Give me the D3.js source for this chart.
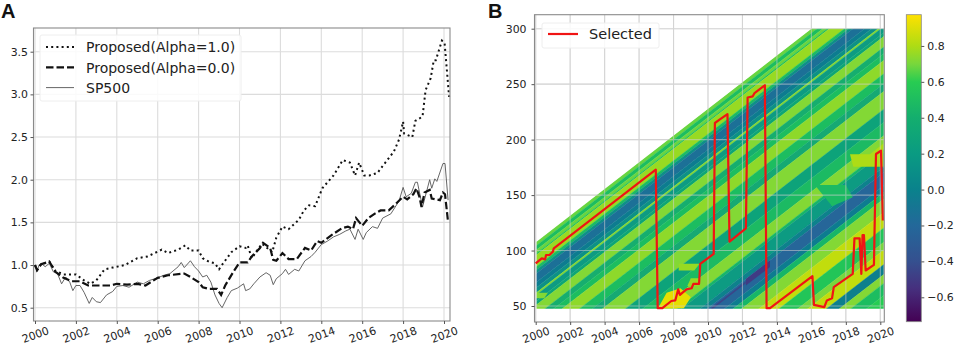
<!DOCTYPE html>
<html><head><meta charset="utf-8">
<script src="https://cdn.jsdelivr.net/npm/d3@7"></script>
<style>html,body{margin:0;padding:0;background:#fff}svg{display:block}text{font-family:"DejaVu Sans",sans-serif}</style>
</head><body><svg id="c" width="955" height="346"></svg>
<script>
const xTicks=[2000,2002,2004,2006,2008,2010,2012,2014,2016,2018,2020];
const yTicksA=[0.5,1,1.5,2,2.5,3,3.5];
const yTicksB=[50,100,150,200,250,300];
const cbTicks=[-0.6,-0.4,-0.2,0,0.2,0.4,0.6,0.8];
const legendA=["Proposed(Alpha=1.0)","Proposed(Alpha=0.0)","SP500"];
const legendB=["Selected"];

const spT=[2000,2000.1,2000.2,2000.3,2000.5,2000.7,2000.9,2001.1,2001.3,2001.5,2001.7,2001.85,2002,2002.2,2002.4,2002.65,2002.8,2003,2003.2,2003.5,2003.8,2004,2004.3,2004.6,2005,2005.3,2005.6,2006,2006.3,2006.6,2007,2007.15,2007.3,2007.6,2007.8,2008,2008.2,2008.4,2008.6,2008.8,2009,2009.15,2009.4,2009.6,2009.9,2010.2,2010.3,2010.5,2010.7,2011,2011.3,2011.5,2011.65,2011.8,2012.1,2012.25,2012.4,2012.7,2012.9,2013.2,2013.5,2013.7,2014,2014.3,2014.6,2014.9,2015.2,2015.4,2015.65,2015.8,2016.05,2016.2,2016.5,2016.75,2017,2017.4,2017.8,2018,2018.15,2018.4,2018.6,2018.7,2018.95,2019.3,2019.4,2019.55,2019.65,2019.95,2020.05,2020.2];
const spV=[1,.93,1,1.02,.98,1.02,.92,.9,.78,.86,.8,.7,.76,.76,.68,.55,.62,.57,.56,.65,.69,.75,.76,.74,.8,.78,.82,.85,.88,.9,.98,1.03,.97,1.05,.98,.93,.86,.88,.8,.65,.55,.5,.62,.7,.73,.78,.7,.72,.78,.86,.91,.88,.77,.84,.9,.95,.89,.95,.93,1.05,1.1,1.15,1.24,1.28,1.33,1.36,1.4,1.42,1.3,1.42,1.3,1.38,1.45,1.43,1.55,1.6,1.75,1.91,1.8,1.84,1.97,1.97,1.68,2,1.9,2.01,1.98,2.19,2.19,1.76];

const a1T=[2000,2000.1,2000.3,2000.7,2001,2001.4,2002,2002.4,2002.7,2003,2003.4,2003.8,2004.4,2005,2005.5,2006.2,2006.5,2007,2007.35,2007.6,2008,2008.2,2008.5,2008.8,2009,2009.2,2009.6,2010,2010.3,2010.4,2010.6,2011.1,2011.6,2011.8,2012.1,2012.4,2012.9,2013.15,2013.4,2013.7,2014.05,2014.6,2015.05,2015.4,2015.65,2015.85,2016.1,2016.35,2016.75,2017,2017.55,2017.8,2018,2018.05,2018.45,2018.6,2018.95,2019.1,2019.35,2019.5,2019.6,2019.9,2020.03,2020.25];
const a1V=[1,.94,1.01,1.04,.93,.89,.89,.82,.78,.82,.95,.97,1,1.08,1.1,1.18,1.14,1.18,1.23,1.17,1.17,1.08,1.04,1.02,.95,1.02,1.15,1.22,1.2,1.23,1.08,1.25,1.15,1.32,1.45,1.42,1.53,1.64,1.7,1.69,1.9,2.05,2.23,2.2,2.05,2.2,2.05,2.05,2.08,2.16,2.33,2.47,2.68,2.54,2.5,2.69,2.74,3.05,3.19,3.4,3.4,3.63,3.6,2.97];

const a0T=[2000,2000.1,2000.3,2000.7,2001,2001.4,2001.8,2002.2,2002.6,2003,2003.7,2004,2004.5,2005,2005.4,2005.8,2006,2006.5,2007.3,2007.6,2008,2008.2,2008.5,2008.9,2009.1,2009.3,2009.7,2010,2010.4,2010.6,2011,2011.15,2011.5,2011.65,2011.8,2012.1,2012.4,2012.8,2013.2,2013.5,2013.8,2014,2014.5,2015,2015.3,2015.55,2015.7,2016,2016.3,2016.6,2016.9,2017.3,2017.7,2018,2018.2,2018.5,2018.65,2018.8,2018.9,2019.05,2019.3,2019.4,2019.8,2019.95,2020.05,2020.2];
const a0V=[1,.94,1.01,1.04,.92,.85,.81,.81,.76,.76,.76,.78,.77,.78,.76,.82,.85,.88,.9,.86,.8,.74,.72,.72,.65,.76,.92,1.03,1.03,1.1,1.2,1.26,1.2,1.06,1.05,1.14,1.07,1.07,1.2,1.17,1.28,1.26,1.35,1.43,1.45,1.42,1.55,1.46,1.55,1.6,1.64,1.64,1.73,1.8,1.77,1.83,1.9,1.8,1.68,1.85,1.88,1.78,1.76,1.85,1.83,1.5];

const selT=[2000,2000.35,2000.55,2000.6,2000.8,2001,2001.05,2006.97,2007.08,2007.35,2007.87,2008.1,2008.27,2008.37,2008.75,2009.05,2009.15,2009.48,2009.55,2010.33,2010.4,2010.67,2011.13,2011.25,2012.2,2012.3,2012.6,2012.7,2013.3,2013.4,2013.6,2016.06,2016.15,2016.75,2016.9,2017.2,2017.3,2018.4,2018.5,2018.8,2018.9,2018.97,2019.05,2019.15,2019.63,2019.75,2020.04,2020.15];
const selV=[88.5,93,92,96,96,99,102,173,48,48,54.5,55,65,60,65,66,70,70,88,97,215,218,223,108,120,238,239,242,249,48,48,77,51,49,55,57,67,79,111,111,79,114,114,82,87,187,190,127];

// diagonal bands of the correlation surface: upper edge (window minus months since 2000) and value
const bandEdge=[108,104,100,97,95.5,85,82,79,71,66,61.5,59.5,54,50.5,41,35,29,17,8,1,-15,-27,-39,-51,-54,-67,-72,-84,-90,-96,-108,-122,-135,-142,-155,-164,-172,-183];
const bandValue=[.68,.5,.68,.52,.76,.5,.12,-.15,-.05,.12,.72,.2,.32,.72,.4,.5,.74,.5,.35,.72,.28,.48,.72,.45,.2,0,-.22,-.05,.45,.72,.84,.55,.7,.84,-.02,.72,.5,.6];
const bandFloor=-196;

// flat-edged patches on the surface
const patchT=[[2018.24,2019.4,2020.18,2020.18,2018.43],[2007.1,2008.6,2009,2008.4,2007.6],[2016.2,2018,2018.4,2017.2],[2000,2000.7,2000.5,2000],[2008.3,2009.5,2009.2,2008.3],[2009,2009.5,2009.5,2008.8],[2012.2,2013.6,2013.6,2012.2],[2010.2,2012.2,2012.2,2010.2]];
const patchL=[[186.7,186.7,196.6,175.6,175.6],[48,48,58,66,62],[159,159,148,140],[62,62,57,57],[88,88,82,82],[75,75,68,68],[74.4,91.2,85.2,68.4],[48.5,72.4,70.4,46.5]];
const patchV=[.8,.92,.48,.72,.76,.76,-.5,-.45];
const cbMin=-.736,cbMax=.974;
const cbStops=[-.736,-.55,-.4,-.2,0,.2,.4,.6,.7,.8,.974];
const cbColors=["#440154","#46307e","#35508f","#23689a","#0a828c","#0a9b82","#14ae6e","#28cc52","#78d73c","#aedc14","#ffe100"];

const svg=d3.select("#c");
const ink="#222", frame="#8a8a8a", grid="#dcdcdc";
const tickFont=10.9;
const color=d3.scaleLinear().domain(cbStops).range(cbColors);
const defs=svg.append("defs");
defs.append("filter").attr("id","soft").append("feGaussianBlur").attr("stdDeviation",0.6);

function panel(x,y,yTicks,box){
  const g=svg.append("g");
  xTicks.forEach(t=>g.append("line").attr("x1",x(t)).attr("x2",x(t)).attr("y1",box.t).attr("y2",box.b));
  yTicks.forEach(t=>g.append("line").attr("y1",y(t)).attr("y2",y(t)).attr("x1",box.l).attr("x2",box.r));
  g.selectAll("line").attr("stroke",grid).attr("stroke-width",1.1);
  return g;
}
function finish(x,y,yTicks,box,fmt,pad,drop){
  svg.append("rect").attr("x",box.l).attr("y",box.t).attr("width",box.r-box.l).attr("height",box.b-box.t).attr("fill","none").attr("stroke",frame).attr("stroke-width",1.1);
  const ax=svg.append("g").attr("transform",`translate(0,${box.b})`).call(d3.axisBottom(x).tickValues(xTicks).tickFormat(d3.format("d")).tickSize(3));
  ax.select(".domain").remove();
  ax.selectAll("text").attr("y",0).attr("dy",null).attr("font-size",tickFont).attr("fill",ink).attr("text-anchor","middle").attr("dominant-baseline","central").attr("transform",`translate(0,${drop}) rotate(-20)`);
  ax.selectAll("line").attr("stroke","#555");
  const ay=svg.append("g").attr("transform",`translate(${box.l},0)`).call(d3.axisLeft(y).tickValues(yTicks).tickFormat(fmt).tickSize(3).tickPadding(pad));
  ay.select(".domain").remove();
  ay.selectAll("text").attr("font-size",tickFont).attr("fill",ink);
  ay.selectAll("line").attr("stroke","#555");
}

// Panel A
const boxA={l:33.5,r:450,t:28,b:321};
const xA=d3.scaleLinear().domain([2000,2020]).range([35,444]);
const yA=d3.scaleLinear().domain([.5,3.5]).range([307.7,51.7]);
panel(xA,yA,yTicksA,boxA);
const lineA=d3.line().x(d=>xA(d[0])).y(d=>yA(d[1]));
const pairs=(a,b)=>a.map((v,i)=>[v,b[i]]);
svg.append("path").attr("d",lineA(pairs(spT,spV))).attr("fill","none").attr("stroke","#555").attr("stroke-width",.9);
svg.append("path").attr("d",lineA(pairs(a1T,a1V))).attr("fill","none").attr("stroke","#111").attr("stroke-width",2).attr("stroke-dasharray","2 3.2");
svg.append("path").attr("d",lineA(pairs(a0T,a0V))).attr("fill","none").attr("stroke","#111").attr("stroke-width",2.2).attr("stroke-dasharray","7.5 3");
finish(xA,yA,yTicksA,boxA,d3.format(".1f"),2.5,14);
svg.append("rect").attr("x",40).attr("y",35).attr("width",201).attr("height",66).attr("rx",2).attr("fill","#fff").attr("fill-opacity",.85).attr("stroke","#eee");
const legStyle=[["#111",2,"2 3.2"],["#111",2.2,"7.5 3"],["#555",.9,null]];
legendA.forEach((s,i)=>{
  const cy=47+i*20.3;
  svg.append("line").attr("x1",46).attr("x2",74).attr("y1",cy).attr("y2",cy).attr("stroke",legStyle[i][0]).attr("stroke-width",legStyle[i][1]).attr("stroke-dasharray",legStyle[i][2]);
  svg.append("text").attr("x",86).attr("y",cy+5.2).attr("font-size",14).attr("fill",ink).text(s);
});
svg.append("text").attr("x",1).attr("y",18).attr("font-size",20).attr("font-weight","bold").style("font-family","'Liberation Sans',sans-serif").attr("fill","#111").text("A");

// Panel B
const boxB={l:534.5,r:884.3,t:14.7,b:322};
const xB=d3.scaleLinear().domain([2000,2020]).range([535.7,880.3]);
const yB=d3.scaleLinear().domain([50,300]).range([306,28.7]);
panel(xB,yB,yTicksB,boxB);
const tMin=2000.05,tMax=2020.2,lMin=47.5,lMax=300;
defs.append("clipPath").attr("id","surf").append("path").attr("d",d3.line()([[xB(tMin),yB(lMin)],[xB(tMax),yB(lMin)],[xB(tMax),yB(lMax)],[xB(2016),yB(lMax)],[xB(tMin),yB(108)]]));
const clipOuter=svg.append("g").attr("clip-path","url(#surf)");
const heat=clipOuter.append("g").attr("filter","url(#soft)");
const edges=bandEdge.concat([bandFloor]);
bandValue.forEach((v,i)=>{
  const up=edges[i],lo=edges[i+1];
  const off=(t,o)=>[xB(t),yB(o+12*(t-2000))];
  heat.append("path").attr("d",d3.line()([off(1999,up),off(2021,up),off(2021,lo),off(1999,lo)])+"Z").attr("fill",color(v)).attr("stroke",color(v)).attr("stroke-width",.4);
});
patchV.forEach((v,i)=>{
  heat.append("path").attr("d",d3.line()(patchT[i].map((t,j)=>[xB(t),yB(patchL[i][j])]))+"Z").attr("fill",color(v));
});
const gridOver=svg.append("g").attr("opacity",.55);
xTicks.forEach(t=>gridOver.append("line").attr("x1",xB(t)).attr("x2",xB(t)).attr("y1",boxB.t).attr("y2",boxB.b));
yTicksB.forEach(t=>gridOver.append("line").attr("y1",yB(t)).attr("y2",yB(t)).attr("x1",boxB.l).attr("x2",boxB.r));
gridOver.selectAll("line").attr("stroke","#cfcfcf").attr("stroke-width",1.1);
svg.append("path").attr("d",d3.line().x(d=>xB(d[0])).y(d=>yB(d[1]))(pairs(selT,selV))).attr("fill","none").attr("stroke","#f01414").attr("stroke-width",2.2).attr("stroke-linejoin","round");
finish(xB,yB,yTicksB,boxB,d3.format("d"),5,13.3);
svg.append("rect").attr("x",542).attr("y",23).attr("width",117).attr("height",25).attr("rx",2).attr("fill","#fff").attr("fill-opacity",.85).attr("stroke","#eee");
svg.append("line").attr("x1",548).attr("x2",578).attr("y1",34).attr("y2",34).attr("stroke","#f01414").attr("stroke-width",2.2);
svg.append("text").attr("x",589).attr("y",39.2).attr("font-size",14.5).attr("fill",ink).text(legendB[0]);
svg.append("text").attr("x",488).attr("y",18).attr("font-size",20).attr("font-weight","bold").style("font-family","'Liberation Sans',sans-serif").attr("fill","#111").text("B");

// Colorbar
const yC=d3.scaleLinear().domain([cbMin,cbMax]).range([321.7,14.7]);
const grad=defs.append("linearGradient").attr("id","vir").attr("x1",0).attr("x2",0).attr("y1",1).attr("y2",0);
cbStops.forEach((s,i)=>grad.append("stop").attr("offset",(s-cbMin)/(cbMax-cbMin)).attr("stop-color",cbColors[i]));
svg.append("rect").attr("x",906.3).attr("y",14.7).attr("width",15).attr("height",307).attr("fill","url(#vir)").attr("stroke",frame).attr("stroke-width",.8);
const ac=svg.append("g").attr("transform","translate(921.3,0)").call(d3.axisRight(yC).tickValues(cbTicks).tickFormat(d=>d3.format(".1f")(d).replace("-","\u2212")).tickSize(3).tickPadding(3));
ac.select(".domain").remove();
ac.selectAll("text").attr("font-size",tickFont).attr("fill",ink);
ac.selectAll("line").attr("stroke","#555");
</script></body></html>
